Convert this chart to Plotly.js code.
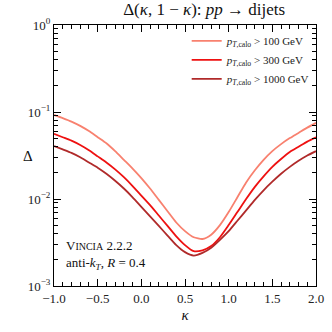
<!DOCTYPE html>
<html>
<head>
<meta charset="utf-8">
<script src="https://cdn.plot.ly/plotly-3.0.1.min.js"></script>
<style>body{margin:0;background:#fff}</style>
</head>
<body>
<div id="myDiv" style="width:332px;height:332px"></div>
<script>
kappa = [-1.0, -0.9, -0.8, -0.7, -0.6, -0.5, -0.4, -0.3, -0.2, -0.1, 0.0,
         0.1, 0.2, 0.3, 0.4, 0.5, 0.6, 0.7, 0.8, 0.9, 1.0,
         1.1, 1.2, 1.3, 1.4, 1.5, 1.6, 1.7, 1.8, 1.9, 2.0];

// p_T,calo > 100 GeV
delta100 = [0.0925, 0.0851, 0.0776, 0.0692, 0.0603, 0.0513, 0.0437, 0.0355, 0.0282, 0.0224, 0.0174,
            0.0132, 0.00977, 0.00724, 0.00537, 0.00427, 0.00363, 0.00347, 0.00389, 0.00501, 0.00708,
            0.01047, 0.0155, 0.0214, 0.0282, 0.0355, 0.0427, 0.0501, 0.0575, 0.0661, 0.0750];

// p_T,calo > 300 GeV
delta300 = [0.0562, 0.0513, 0.0468, 0.0417, 0.0363, 0.0309, 0.0263, 0.0219, 0.0178, 0.0141, 0.01096,
            0.00851, 0.00646, 0.00490, 0.00372, 0.00295, 0.00251, 0.00257, 0.00288, 0.00363, 0.00501,
            0.00708, 0.0100, 0.0138, 0.0182, 0.0234, 0.0288, 0.0347, 0.0398, 0.0457, 0.0513];

// p_T,calo > 1000 GeV
delta1000 = [0.0407, 0.0372, 0.0339, 0.0302, 0.0263, 0.0229, 0.0195, 0.0162, 0.0132, 0.01047, 0.00813,
             0.00631, 0.00490, 0.00380, 0.00295, 0.00245, 0.00224, 0.00240, 0.00275, 0.00339, 0.00427,
             0.00562, 0.00741, 0.00977, 0.0126, 0.0158, 0.0195, 0.0234, 0.0275, 0.0316, 0.0355];

names = ['<i>p</i><sub><i>T</i>,calo</sub> > 100 GeV',
         '<i>p</i><sub><i>T</i>,calo</sub> > 300 GeV',
         '<i>p</i><sub><i>T</i>,calo</sub> > 1000 GeV'];
colors = ['#f8816f', '#ee1111', '#b02a2a'];

yMajor = [0.001, 0.01, 0.1, 1];
yMajorText = ['10<sup>−3</sup>', '10<sup>−2</sup>', '10<sup>−1</sup>', '10<sup>0</sup>'];
yMinor = [0.002, 0.003, 0.004, 0.005, 0.006, 0.007, 0.008, 0.009,
          0.02, 0.03, 0.04, 0.05, 0.06, 0.07, 0.08, 0.09,
          0.2, 0.3, 0.4, 0.5, 0.6, 0.7, 0.8, 0.9];

var serif = 'Liberation Serif, DejaVu Serif, serif';

var series = [delta100, delta300, delta1000];
var data = [];
for (let i = 0; i < series.length; i++) {
    data.push({
        x: kappa,
        y: series[i],
        name: names[i],
        mode: 'lines',
        type: 'scatter',
        line: {color: colors[i], width: 1.8, shape: 'spline', smoothing: 0.6}
    });
}

var axisCommon = {
    showline: true,
    linecolor: '#000',
    linewidth: 1,
    mirror: 'allticks',
    ticks: 'inside',
    ticklen: 7,
    tickcolor: '#000',
    showgrid: false,
    zeroline: false,
    tickfont: {family: serif, size: 13, color: '#222'}
};

var layout = {
    width: 332,
    height: 332,
    margin: {l: 54, r: 16, t: 25, b: 46},
    paper_bgcolor: '#fff',
    plot_bgcolor: '#fff',
    showlegend: true,
    font: {family: serif, color: '#111'},
    title: {
        text: 'Δ(<i>κ</i>, 1 − <i>κ</i>): <i>pp</i> → dijets',
        font: {family: serif, size: 17, color: '#111'},
        x: 0.615, xanchor: 'center', y: 0.99, yanchor: 'top'
    },
    xaxis: Object.assign({}, axisCommon, {
        range: [-1, 2],
        dtick: 0.5,
        tickformat: '.1f',
        minor: {dtick: 0.1, ticks: 'inside', ticklen: 4, tickcolor: '#000', showgrid: false},
        title: {text: '<i>κ</i>', font: {family: serif, size: 15}, standoff: 4}
    }),
    yaxis: Object.assign({}, axisCommon, {
        type: 'log',
        range: [-3, 0],
        tickmode: 'array',
        tickvals: yMajor,
        ticktext: yMajorText,
        minor: {tickmode: 'array', tickvals: yMinor, ticks: 'inside', ticklen: 4, tickcolor: '#000', showgrid: false}
    }),
    legend: {
        x: 0.995, xanchor: 'right', y: 0.995, yanchor: 'top',
        bgcolor: 'rgba(0,0,0,0)',
        font: {family: serif, size: 11, color: '#222'},
        itemwidth: 30,
        tracegroupgap: 0
    },
    annotations: [
        {text: 'Δ', xref: 'paper', yref: 'paper', x: -0.125, y: 0.5,
         showarrow: false, font: {family: serif, size: 15, color: '#111'}},
        {text: 'V<span style="font-size:10px">INCIA</span> 2.2.2<br>anti-<i>k</i><sub><i>T</i></sub>, <i>R</i> = 0.4',
         xref: 'paper', yref: 'paper', x: 0.04, y: 0.045, xanchor: 'left', align: 'left',
         showarrow: false, font: {family: serif, size: 13, color: '#111'}}
    ]
};

Plotly.newPlot('myDiv', data, layout, {staticPlot: true});
</script>
</body>
</html>
